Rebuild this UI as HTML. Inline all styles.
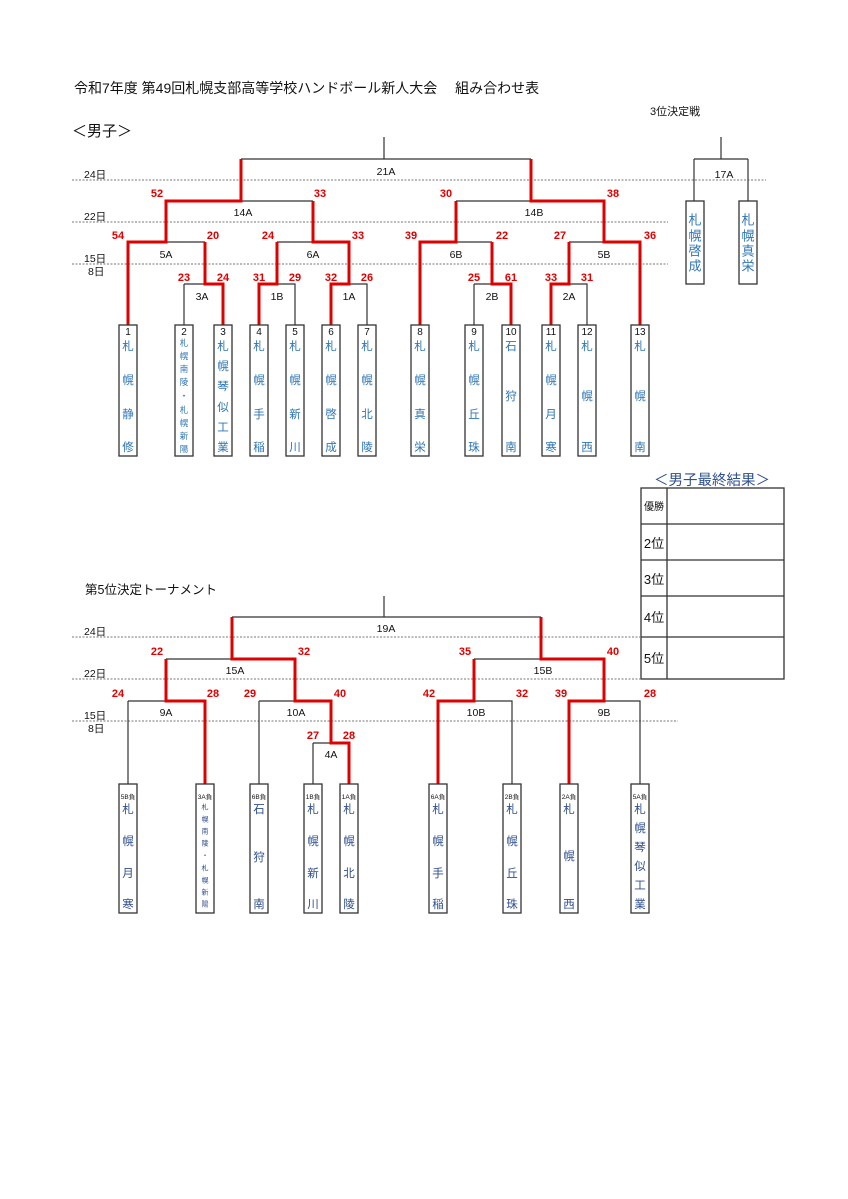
<!DOCTYPE html>
<html><head><meta charset="utf-8"><style>
html,body{margin:0;padding:0;background:#fff}
svg{display:block}
text{font-family:"Liberation Sans","Noto Sans CJK JP",sans-serif}
.k{stroke:#333;stroke-width:1.2;fill:none}
.r{stroke:#e00000;stroke-width:3;fill:none}
.d{stroke:#777;stroke-width:1;stroke-dasharray:2 1.5}
.bx{fill:#fff;stroke:#333;stroke-width:1.3}
.s{fill:#e00000;font-weight:bold;font-size:11px;text-anchor:middle}
.l{fill:#111;font-size:10.5px;text-anchor:middle}
.dt{fill:#111;font-size:10.5px}
.n{fill:#111;font-size:10px;text-anchor:middle}
.c{fill:#2e75b6;font-size:11.5px;text-anchor:middle;dominant-baseline:central}
.cs{fill:#2e75b6;font-size:8.5px;text-anchor:middle;dominant-baseline:central}
.b{fill:#2f4f8f;font-size:11.5px;text-anchor:middle;dominant-baseline:central}
.bs{fill:#2f4f8f;font-size:7px;text-anchor:middle;dominant-baseline:central}
.t{fill:#111;font-size:6.5px;text-anchor:middle}
</style></head><body>
<svg width="848" height="1199" viewBox="0 0 848 1199" xmlns="http://www.w3.org/2000/svg">
<text x="74" y="93" style="font-size:14px;fill:#111">令和7年度 第49回札幌支部高等学校ハンドボール新人大会　 組み合わせ表</text>
<text x="650" y="115" style="font-size:11px;fill:#111">3位決定戦</text>
<text x="72" y="136" style="font-size:15px;fill:#111">＜男子＞</text>

<line class="d" x1="72" y1="180" x2="766" y2="180"/>
<line class="d" x1="72" y1="222" x2="668" y2="222"/>
<line class="d" x1="72" y1="264" x2="668" y2="264"/>
<text class="dt" x="84" y="178">24日</text>
<text class="dt" x="84" y="220">22日</text>
<text class="dt" x="84" y="262">15日</text>
<text class="dt" x="88" y="275">8日</text>

<path class="k" d="M384 137V159M241 159H531M241 201H313M456 201H531M166 242H205M277 242H313M456 242H492M569 242H604M184 284H205M184 284V325M277 284H295V325M349 284H367V325M474 284H492M474 284V325M569 284H587V325"/>
<path class="r" d="M241 159V201H166V242H128V325M205 242V284H223V325M313 201V242H349V284H331V325M277 242V284H259V325M531 159V201H604V242H640V325M456 201V242H420V325M492 242V284H511V325M569 242V284H551V325"/>
<path class="k" d="M721 137V159M694 159H748M694 159V201M748 159V201"/>

<text class="l" x="386" y="175">21A</text>
<text class="l" x="243" y="216">14A</text>
<text class="l" x="534" y="216">14B</text>
<text class="l" x="166" y="258">5A</text>
<text class="l" x="313" y="258">6A</text>
<text class="l" x="456" y="258">6B</text>
<text class="l" x="604" y="258">5B</text>
<text class="l" x="202" y="300">3A</text>
<text class="l" x="277" y="300">1B</text>
<text class="l" x="349" y="300">1A</text>
<text class="l" x="492" y="300">2B</text>
<text class="l" x="569" y="300">2A</text>
<text class="l" x="724" y="178">17A</text>

<text class="s" x="157" y="197">52</text><text class="s" x="320" y="197">33</text>
<text class="s" x="446" y="197">30</text><text class="s" x="613" y="197">38</text>
<text class="s" x="118" y="239">54</text><text class="s" x="213" y="239">20</text>
<text class="s" x="268" y="239">24</text><text class="s" x="358" y="239">33</text>
<text class="s" x="411" y="239">39</text><text class="s" x="502" y="239">22</text>
<text class="s" x="560" y="239">27</text><text class="s" x="650" y="239">36</text>
<text class="s" x="184" y="281">23</text><text class="s" x="223" y="281">24</text>
<text class="s" x="259" y="281">31</text><text class="s" x="295" y="281">29</text>
<text class="s" x="331" y="281">32</text><text class="s" x="367" y="281">26</text>
<text class="s" x="474" y="281">25</text><text class="s" x="511" y="281">61</text>
<text class="s" x="551" y="281">33</text><text class="s" x="587" y="281">31</text>

<g>
<rect class="bx" x="119" y="325" width="18" height="131"/><rect class="bx" x="175" y="325" width="18" height="131"/>
<rect class="bx" x="214" y="325" width="18" height="131"/><rect class="bx" x="250" y="325" width="18" height="131"/>
<rect class="bx" x="286" y="325" width="18" height="131"/><rect class="bx" x="322" y="325" width="18" height="131"/>
<rect class="bx" x="358" y="325" width="18" height="131"/><rect class="bx" x="411" y="325" width="18" height="131"/>
<rect class="bx" x="465" y="325" width="18" height="131"/><rect class="bx" x="502" y="325" width="18" height="131"/>
<rect class="bx" x="542" y="325" width="18" height="131"/><rect class="bx" x="578" y="325" width="18" height="131"/>
<rect class="bx" x="631" y="325" width="18" height="131"/>
<rect class="bx" x="686" y="201" width="18" height="83"/><rect class="bx" x="739" y="201" width="18" height="83"/>
</g>
<g>
<text class="n" x="128" y="335">1</text><text class="n" x="184" y="335">2</text><text class="n" x="223" y="335">3</text>
<text class="n" x="259" y="335">4</text><text class="n" x="295" y="335">5</text><text class="n" x="331" y="335">6</text>
<text class="n" x="367" y="335">7</text><text class="n" x="420" y="335">8</text><text class="n" x="474" y="335">9</text>
<text class="n" x="511" y="335">10</text><text class="n" x="551" y="335">11</text><text class="n" x="587" y="335">12</text>
<text class="n" x="640" y="335">13</text>
</g>
<g>
<text class="c" x="128" y="347">札</text><text class="c" x="128" y="381">幌</text><text class="c" x="128" y="415">静</text><text class="c" x="128" y="448">修</text>
<text class="cs" x="184" y="343">札</text><text class="cs" x="184" y="356">幌</text><text class="cs" x="184" y="369">南</text><text class="cs" x="184" y="382">陵</text><text class="cs" x="184" y="396">・</text><text class="cs" x="184" y="410">札</text><text class="cs" x="184" y="423">幌</text><text class="cs" x="184" y="436">新</text><text class="cs" x="184" y="449">陽</text>
<text class="c" x="223" y="347">札</text><text class="c" x="223" y="367">幌</text><text class="c" x="223" y="387">琴</text><text class="c" x="223" y="408">似</text><text class="c" x="223" y="428">工</text><text class="c" x="223" y="448">業</text>
<text class="c" x="259" y="347">札</text><text class="c" x="259" y="381">幌</text><text class="c" x="259" y="415">手</text><text class="c" x="259" y="448">稲</text>
<text class="c" x="295" y="347">札</text><text class="c" x="295" y="381">幌</text><text class="c" x="295" y="415">新</text><text class="c" x="295" y="448">川</text>
<text class="c" x="331" y="347">札</text><text class="c" x="331" y="381">幌</text><text class="c" x="331" y="415">啓</text><text class="c" x="331" y="448">成</text>
<text class="c" x="367" y="347">札</text><text class="c" x="367" y="381">幌</text><text class="c" x="367" y="415">北</text><text class="c" x="367" y="448">陵</text>
<text class="c" x="420" y="347">札</text><text class="c" x="420" y="381">幌</text><text class="c" x="420" y="415">真</text><text class="c" x="420" y="448">栄</text>
<text class="c" x="474" y="347">札</text><text class="c" x="474" y="381">幌</text><text class="c" x="474" y="415">丘</text><text class="c" x="474" y="448">珠</text>
<text class="c" x="511" y="347">石</text><text class="c" x="511" y="397">狩</text><text class="c" x="511" y="448">南</text>
<text class="c" x="551" y="347">札</text><text class="c" x="551" y="381">幌</text><text class="c" x="551" y="415">月</text><text class="c" x="551" y="448">寒</text>
<text class="c" x="587" y="347">札</text><text class="c" x="587" y="397">幌</text><text class="c" x="587" y="448">西</text>
<text class="c" x="640" y="347">札</text><text class="c" x="640" y="397">幌</text><text class="c" x="640" y="448">南</text>
<text class="c" x="695" y="220" style="font-size:13px">札</text><text class="c" x="695" y="236" style="font-size:13px">幌</text><text class="c" x="695" y="251" style="font-size:13px">啓</text><text class="c" x="695" y="266" style="font-size:13px">成</text>
<text class="c" x="748" y="220" style="font-size:13px">札</text><text class="c" x="748" y="236" style="font-size:13px">幌</text><text class="c" x="748" y="251" style="font-size:13px">真</text><text class="c" x="748" y="266" style="font-size:13px">栄</text>
</g>

<text x="712" y="485" style="font-size:14.5px;fill:#2f4f8f;text-anchor:middle">＜男子最終結果＞</text>
<rect x="641" y="488" width="143" height="191" fill="none" stroke="#333" stroke-width="1.3"/>
<path d="M667 488V679M641 524H784M641 560H784M641 596H784M641 637H784" stroke="#333" stroke-width="1.3" fill="none"/>
<text x="654" y="510" style="font-size:10px;fill:#111;text-anchor:middle">優勝</text>
<text x="654" y="548" style="font-size:13px;fill:#111;text-anchor:middle">2位</text>
<text x="654" y="584" style="font-size:13px;fill:#111;text-anchor:middle">3位</text>
<text x="654" y="622" style="font-size:13px;fill:#111;text-anchor:middle">4位</text>
<text x="654" y="663" style="font-size:13px;fill:#111;text-anchor:middle">5位</text>

<text x="85" y="594" style="font-size:12.5px;fill:#111">第5位決定トーナメント</text>
<line class="d" x1="72" y1="637" x2="641" y2="637"/>
<line class="d" x1="72" y1="679" x2="641" y2="679"/>
<line class="d" x1="72" y1="721" x2="678" y2="721"/>
<text class="dt" x="84" y="635">24日</text>
<text class="dt" x="84" y="677">22日</text>
<text class="dt" x="84" y="719">15日</text>
<text class="dt" x="88" y="732">8日</text>

<path class="k" d="M384 596V617M232 617H541M166 659H232M128 701H166M128 701V784M259 701H295M259 701V784M313 743H331M313 743V784M474 659H541M474 701H512V784M604 701H640V784"/>
<path class="r" d="M232 617V659H295V701H331V743H349V784M166 659V701H205V784M541 617V659H604V701H569V784M474 659V701H438V784"/>

<text class="l" x="386" y="632">19A</text>
<text class="l" x="235" y="674">15A</text>
<text class="l" x="543" y="674">15B</text>
<text class="l" x="166" y="716">9A</text>
<text class="l" x="296" y="716">10A</text>
<text class="l" x="476" y="716">10B</text>
<text class="l" x="604" y="716">9B</text>
<text class="l" x="331" y="758">4A</text>

<text class="s" x="157" y="655">22</text><text class="s" x="304" y="655">32</text>
<text class="s" x="465" y="655">35</text><text class="s" x="613" y="655">40</text>
<text class="s" x="118" y="697">24</text><text class="s" x="213" y="697">28</text>
<text class="s" x="250" y="697">29</text><text class="s" x="340" y="697">40</text>
<text class="s" x="429" y="697">42</text><text class="s" x="522" y="697">32</text>
<text class="s" x="561" y="697">39</text><text class="s" x="650" y="697">28</text>
<text class="s" x="313" y="739">27</text><text class="s" x="349" y="739">28</text>

<g>
<rect class="bx" x="119" y="784" width="18" height="129"/><rect class="bx" x="196" y="784" width="18" height="129"/>
<rect class="bx" x="250" y="784" width="18" height="129"/><rect class="bx" x="304" y="784" width="18" height="129"/>
<rect class="bx" x="340" y="784" width="18" height="129"/><rect class="bx" x="429" y="784" width="18" height="129"/>
<rect class="bx" x="503" y="784" width="18" height="129"/><rect class="bx" x="560" y="784" width="18" height="129"/>
<rect class="bx" x="631" y="784" width="18" height="129"/>
</g>
<text class="t" x="128" y="799">5B負</text><text class="t" x="205" y="799">3A負</text><text class="t" x="259" y="799">6B負</text>
<text class="t" x="313" y="799">1B負</text><text class="t" x="349" y="799">1A負</text><text class="t" x="438" y="799">6A負</text>
<text class="t" x="512" y="799">2B負</text><text class="t" x="569" y="799">2A負</text><text class="t" x="640" y="799">5A負</text>
<g>
<text class="b" x="128" y="810">札</text><text class="b" x="128" y="842">幌</text><text class="b" x="128" y="874">月</text><text class="b" x="128" y="905">寒</text>
<text class="bs" x="205" y="808">札</text><text class="bs" x="205" y="820">幌</text><text class="bs" x="205" y="832">南</text><text class="bs" x="205" y="844">陵</text><text class="bs" x="205" y="856">・</text><text class="bs" x="205" y="869">札</text><text class="bs" x="205" y="881">幌</text><text class="bs" x="205" y="893">新</text><text class="bs" x="205" y="905">陽</text>
<text class="b" x="259" y="810">石</text><text class="b" x="259" y="858">狩</text><text class="b" x="259" y="905">南</text>
<text class="b" x="313" y="810">札</text><text class="b" x="313" y="842">幌</text><text class="b" x="313" y="874">新</text><text class="b" x="313" y="905">川</text>
<text class="b" x="349" y="810">札</text><text class="b" x="349" y="842">幌</text><text class="b" x="349" y="874">北</text><text class="b" x="349" y="905">陵</text>
<text class="b" x="438" y="810">札</text><text class="b" x="438" y="842">幌</text><text class="b" x="438" y="874">手</text><text class="b" x="438" y="905">稲</text>
<text class="b" x="512" y="810">札</text><text class="b" x="512" y="842">幌</text><text class="b" x="512" y="874">丘</text><text class="b" x="512" y="905">珠</text>
<text class="b" x="569" y="810">札</text><text class="b" x="569" y="857">幌</text><text class="b" x="569" y="905">西</text>
<text class="b" x="640" y="810">札</text><text class="b" x="640" y="829">幌</text><text class="b" x="640" y="848">琴</text><text class="b" x="640" y="867">似</text><text class="b" x="640" y="886">工</text><text class="b" x="640" y="905">業</text>
</g>
</svg>
</body></html>
